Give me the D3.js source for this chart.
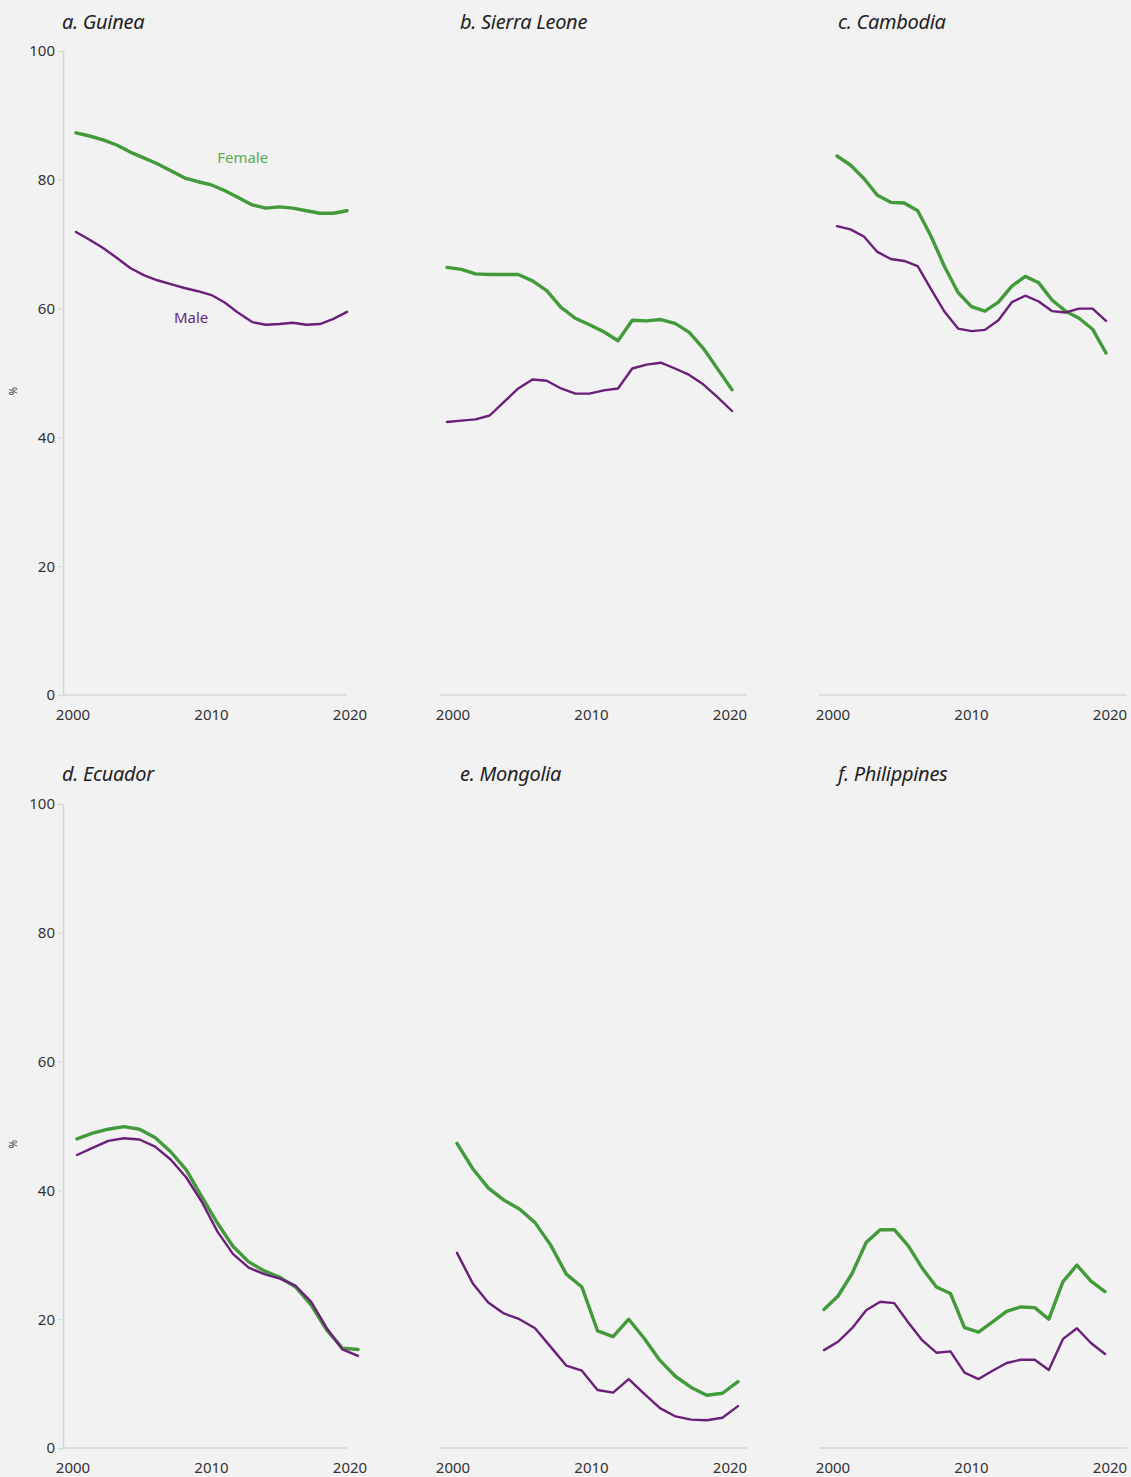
<!DOCTYPE html>
<html>
<head>
<meta charset="utf-8">
<script src="https://cdn.jsdelivr.net/npm/d3@7"></script>
<style>
  html, body { margin: 0; padding: 0; background: #f2f2f2; }
  svg { display: block; }
  text { font-family: "Noto Sans", "Open Sans", sans-serif; }
</style>
</head>
<body>
<svg id="chart" width="1131" height="1477"></svg>
<script>
// ---------- DATA ----------
const panelTitles = ["a. Guinea", "b. Sierra Leone", "c. Cambodia", "d. Ecuador", "e. Mongolia", "f. Philippines"];
const yTicks = [0, 20, 40, 60, 80, 100];
const xTickLabels = [2000, 2010, 2020];
const seriesNames = ["Female", "Male"];

const yearsFull = d3.range(2000, 2021);       // 21 points
const yearsShort = d3.range(2002, 2021);      // 19 points

const guineaFemale = [87.3, 86.8, 86.2, 85.4, 84.3, 83.4, 82.5, 81.4, 80.3, 79.7, 79.2, 78.3, 77.2, 76.1, 75.6, 75.8, 75.6, 75.2, 74.8, 74.8, 75.2];
const guineaMale   = [71.9, 70.7, 69.4, 67.9, 66.3, 65.2, 64.4, 63.8, 63.2, 62.7, 62.1, 60.9, 59.3, 57.9, 57.5, 57.6, 57.8, 57.5, 57.6, 58.4, 59.5];

const sierraFemale = [66.4, 66.1, 65.4, 65.3, 65.3, 65.3, 64.3, 62.8, 60.2, 58.5, 57.5, 56.4, 55.0, 58.2, 58.1, 58.3, 57.7, 56.3, 53.8, 50.6, 47.4];
const sierraMale   = [42.4, 42.6, 42.8, 43.4, 45.5, 47.6, 49.0, 48.8, 47.6, 46.8, 46.8, 47.3, 47.6, 50.7, 51.3, 51.6, 50.7, 49.7, 48.2, 46.2, 44.1];

const cambodiaFemale = [83.7, 82.3, 80.2, 77.6, 76.5, 76.4, 75.2, 71.2, 66.5, 62.5, 60.3, 59.6, 61.0, 63.5, 65.0, 64.0, 61.3, 59.6, 58.5, 56.8, 53.1];
const cambodiaMale   = [72.8, 72.3, 71.2, 68.8, 67.7, 67.4, 66.6, 63.0, 59.5, 56.9, 56.5, 56.7, 58.2, 61.0, 62.0, 61.1, 59.6, 59.4, 60.0, 60.0, 58.1];

const ecuadorFemale = [48.0, 48.9, 49.5, 49.9, 49.5, 48.2, 46.0, 43.2, 39.0, 34.9, 31.3, 28.9, 27.5, 26.5, 25.0, 22.2, 18.3, 15.5, 15.3];
const ecuadorMale   = [45.5, 46.6, 47.7, 48.1, 47.9, 46.8, 44.8, 42.0, 38.2, 33.6, 30.1, 28.0, 27.0, 26.3, 25.2, 22.7, 18.6, 15.3, 14.3];

const mongoliaFemale = [47.3, 43.4, 40.4, 38.5, 37.1, 35.0, 31.5, 27.0, 25.0, 18.2, 17.3, 20.0, 17.0, 13.6, 11.1, 9.4, 8.2, 8.5, 10.3];
const mongoliaMale   = [30.3, 25.6, 22.6, 20.9, 20.0, 18.6, 15.7, 12.8, 12.0, 9.0, 8.6, 10.7, 8.4, 6.2, 4.9, 4.4, 4.3, 4.7, 6.5];

const philippinesFemale = [21.5, 23.6, 27.1, 31.9, 33.9, 33.9, 31.4, 27.9, 25.0, 24.0, 18.7, 18.0, 19.6, 21.2, 21.9, 21.8, 20.0, 25.8, 28.4, 25.9, 24.3];
const philippinesMale   = [15.2, 16.5, 18.6, 21.4, 22.7, 22.5, 19.5, 16.7, 14.8, 15.0, 11.7, 10.7, 12.0, 13.2, 13.7, 13.7, 12.1, 16.9, 18.6, 16.3, 14.6];

const panelYears = [yearsFull, yearsFull, yearsFull, yearsShort, yearsShort, yearsFull];
const panelSeries = [
  [guineaFemale, guineaMale],
  [sierraFemale, sierraMale],
  [cambodiaFemale, cambodiaMale],
  [ecuadorFemale, ecuadorMale],
  [mongoliaFemale, mongoliaMale],
  [philippinesFemale, philippinesMale]
];

// ---------- LAYOUT ----------
const colors = { Female: "#429a3a", Male: "#6a1f78" };
const widths = { Female: 3.4, Male: 2.4 };
const colAxis = [[63, 347], [440, 747], [819, 1127]];
const colTickLabel = [[73, 350], [453, 730], [833, 1110]];
const rowY = [[695, 51], [1448, 804]];
const rowTitleY = [29, 781];
const titleX = [62, 460, 838];
const panelDataRange = [[76, 347], [447, 732], [837, 1106], [77, 358], [457, 738], [824, 1105]];

const svg = d3.select("#chart");
svg.append("rect").attr("width", 1131).attr("height", 1477).attr("fill", "#f2f2f2");

panelTitles.forEach((title, i) => {
  const col = i % 3, row = Math.floor(i / 3);
  const g = svg.append("g");
  const y = d3.scaleLinear().domain([0, 100]).range(rowY[row]);
  const xTick = d3.scaleLinear().domain([2000, 2020]).range(colTickLabel[col]);
  const yrs = panelYears[i];
  const x = d3.scaleLinear().domain(d3.extent(yrs)).range(panelDataRange[i]);

  // title
  g.append("text")
    .attr("x", titleX[col]).attr("y", rowTitleY[row])
    .attr("font-size", 20).attr("font-style", "italic")
    .attr("fill", "#222").attr("letter-spacing", -0.3)
    .text(title);

  // x axis line
  g.append("line")
    .attr("x1", colAxis[col][0]).attr("x2", colAxis[col][1])
    .attr("y1", y(0)).attr("y2", y(0))
    .attr("stroke", "#d6d6d6").attr("stroke-width", 1.6);

  // x tick labels
  g.selectAll(".xl").data(xTickLabels).enter().append("text")
    .attr("x", d => xTick(d)).attr("y", y(0) + 25)
    .attr("text-anchor", "middle").attr("font-size", 15).attr("fill", "#333")
    .text(d => d);

  // y axis (first column only)
  if (col === 0) {
    const yAxis = d3.axisLeft(y).tickValues(yTicks).tickSize(5).tickPadding(3);
    const ya = g.append("g").attr("transform", `translate(${colAxis[0][0]},0)`).call(yAxis);
    ya.select(".domain").attr("stroke", "#d6d6d6").attr("stroke-width", 1.6);
    ya.selectAll(".tick line").attr("stroke", "#d6d6d6");
    ya.selectAll(".tick text").attr("font-size", 15).attr("fill", "#333")
      .attr("font-family", "'Noto Sans', 'Open Sans', sans-serif");
    g.append("text")
      .attr("transform", `translate(17,${(y(0) + y(100)) / 2 + 18}) rotate(-90)`)
      .attr("text-anchor", "middle").attr("font-size", 10).attr("fill", "#333")
      .text("%");
  }

  // lines
  const line = d3.line().x((d, k) => x(yrs[k])).y(d => y(d));
  panelSeries[i].forEach((vals, s) => {
    const name = seriesNames[s];
    g.append("path").datum(vals)
      .attr("d", line)
      .attr("fill", "none")
      .attr("stroke", colors[name])
      .attr("stroke-width", widths[name])
      .attr("stroke-linejoin", "round")
      .attr("stroke-linecap", "round");
  });

  // series labels in panel a
  if (i === 0) {
    const labelYears = [2012.3, 2008.5];
    const labelVals = [82.6, 57.8];
    seriesNames.forEach((name, s) => {
      g.append("text")
        .attr("x", x(labelYears[s])).attr("y", y(labelVals[s]))
        .attr("text-anchor", "middle").attr("font-size", 15)
        .attr("fill", name === "Female" ? "#5aab4d" : "#6a1f78")
        .text(name);
    });
  }
});
</script>
</body>
</html>
